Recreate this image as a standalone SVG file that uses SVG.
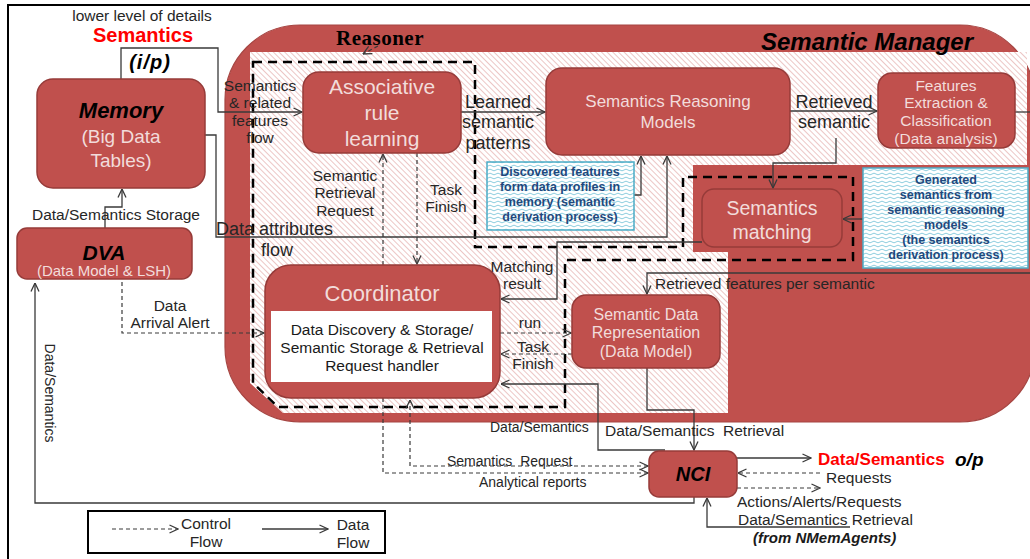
<svg xmlns="http://www.w3.org/2000/svg" width="1030" height="559" viewBox="0 0 1030 559">
  <style>
    text { font-family: "Liberation Sans", Arial, sans-serif; text-anchor: middle; dominant-baseline: central; }
    .lbl { fill: #262626; font-size: 15.5px; }
    .lbl-s { fill: #262626; font-size: 14px; }
    .lbl-l { fill: #262626; font-size: 18px; }
    .start { text-anchor: start; }
    .node { fill: #C0504D; stroke: #963B39; stroke-width: 1.5; }
    .ntxt { fill: #F2DCDB; }
    .bi { font-weight: bold; font-style: italic; fill: #000; }
    .note { fill: url(#wave); stroke: #4BACC6; stroke-width: 1.5; }
    .ntext { fill: #1F497D; font-size: 12.5px; font-weight: bold; }
    .data { fill: none; stroke: #3A3A3A; stroke-width: 1.3; marker-end: url(#arrow); }
    .plain { fill: none; stroke: #3A3A3A; stroke-width: 1.3; }
    .ctrl { fill: none; stroke: #3A3A3A; stroke-width: 1.2; stroke-dasharray: 4 3; marker-end: url(#arrow); }
    .bound { fill: none; stroke: #000; stroke-width: 2.5; stroke-dasharray: 9 6; }
  </style>
  <defs>
    <marker id="arrow" viewBox="0 0 10 10" refX="9.5" refY="5" markerWidth="10" markerHeight="10" markerUnits="userSpaceOnUse" orient="auto-start-reverse">
      <path d="M1,1 L9.5,5 L1,9" fill="none" stroke="#3A3A3A" stroke-width="1.3"/>
    </marker>
    <pattern id="hatch" patternUnits="userSpaceOnUse" width="4" height="4" patternTransform="rotate(-45)">
      <rect width="4" height="4" fill="#FFFFFF"/>
      <line x1="0" y1="0" x2="0" y2="4" stroke="#E2A8A6" stroke-width="1.3"/>
    </pattern>
    <pattern id="wave" patternUnits="userSpaceOnUse" width="8" height="4">
      <rect width="8" height="4" fill="#FFFFFF"/>
      <path d="M0,2 Q2,0.3 4,2 T8,2" fill="none" stroke="#6FC0D6" stroke-width="0.8"/>
    </pattern>
  </defs>

  <rect width="1030" height="559" fill="#FFFFFF"/>
  <!-- page frame -->
  <path d="M8,559 V5 H1030" fill="none" stroke="#000" stroke-width="2"/>

  <!-- Semantic Manager container -->
  <g id="semantic-manager">
    <rect x="225" y="25" width="810" height="397" rx="75" ry="75" fill="#C0504D" stroke="#A64542" stroke-width="1.2"/>
    <path d="M250,52 H1027 V165 H693 V252 H728 V413 H283 L250,383 Z" fill="url(#hatch)"/>
    <text x="867" y="41" class="bi" font-size="24">Semantic Manager</text>
  </g>

  <!-- Reasoner boundary -->
  <g id="reasoner">
    <path class="bound" d="M253,62 H475 V247 H683 V177 H853 V260 H565 V407 H278 L253,383 Z"/>
    <text x="380" y="38" style="font-family:'Liberation Serif','Times New Roman',serif;font-weight:bold;font-size:21px;letter-spacing:0.5px;fill:#000">Reasoner</text>
  </g>

  <!-- connectors -->
  <g id="connectors">
    <path class="ctrl" d="M378,46 L363,54"/>
    <!-- data flow -->
    <path class="data" d="M121,79 V48 H218 V112 H302"/>
    <path class="data" d="M205,135 H216 V237 H667 V156"/>
    <path class="data" d="M105,228 V207 H122 V189"/>
    <path class="data" d="M461,112 H545"/>
    <path class="data" d="M790,111 H877"/>
    <path class="plain" d="M1015,112 H1030"/>
    <path class="data" d="M836,138 V163 H773 V188"/>
    <path class="data" d="M863,219 H843"/>
    <path class="data" d="M634,195 H641 V156"/>
    <path class="data" d="M702,242 H557 V299 H501"/>
    <path class="data" d="M1030,273 H647 V294"/>
    <path class="data" d="M647,368 V410 H694 V450"/>
    <path class="data" d="M665,450 H598 V384 H501"/>
    <path class="data" d="M737,458 H811"/>
    <path class="data" d="M850,527 H707 V498"/>
    <path class="data" d="M694,497 V503 H35 V283"/>
    <!-- control flow -->
    <path class="ctrl" d="M383,265 V154"/>
    <path class="ctrl" d="M417,153 V264"/>
    <path class="ctrl" d="M122,282 V333 H264"/>
    <path class="ctrl" d="M500,333 H571"/>
    <path class="ctrl" d="M572,354 H501"/>
    <path class="ctrl" d="M648,466 H410 V400" style="marker-start:url(#arrow)"/>
    <path class="ctrl" d="M383,398 V473 H648"/>
    <path class="ctrl" d="M820,473 H738"/>
    <path class="ctrl" d="M737,488 H820"/>
  </g>

  <!-- connector labels -->
  <g id="labels">
    <text x="142" y="15" class="lbl" font-size="15">lower level of details</text>
    <text x="143" y="35" style="fill:#FF0000;font-weight:bold;font-size:20px">Semantics</text>
    <text x="150" y="62" class="bi" font-size="20" letter-spacing="1">(i/p)</text>

    <text x="260" y="85" class="lbl">Semantics</text>
    <text x="260" y="102" class="lbl">&amp; related</text>
    <text x="260" y="120" class="lbl">features</text>
    <text x="260" y="137" class="lbl">flow</text>

    <text x="498" y="102" class="lbl-l">Learned</text>
    <text x="498" y="122" class="lbl-l">semantic</text>
    <text x="498" y="143" class="lbl-l">patterns</text>

    <text x="834" y="102" class="lbl-l">Retrieved</text>
    <text x="834" y="122" class="lbl-l">semantic</text>

    <text x="216" y="229" class="lbl-l start">Data attributes</text>
    <text x="261" y="250" class="lbl-l start">flow</text>

    <text x="116" y="214" class="lbl">Data/Semantics Storage</text>
    <text x="170" y="305" class="lbl">Data</text>
    <text x="170" y="322" class="lbl">Arrival Alert</text>

    <text x="345" y="175" class="lbl" font-size="16">Semantic</text>
    <text x="345" y="192" class="lbl" font-size="16">Retrieval</text>
    <text x="345" y="210" class="lbl" font-size="16">Request</text>
    <text x="446" y="189" class="lbl" font-size="16">Task</text>
    <text x="446" y="206" class="lbl" font-size="16">Finish</text>

    <text x="522" y="266" class="lbl">Matching</text>
    <text x="522" y="283" class="lbl">result</text>
    <text x="530" y="322" class="lbl" font-size="16">run</text>
    <text x="533" y="346" class="lbl" font-size="16">Task</text>
    <text x="533" y="363" class="lbl" font-size="16">Finish</text>

    <text x="655" y="283" class="lbl start" font-size="16">Retrieved features per semantic</text>
    <text x="490" y="427" class="lbl-s start">Data/Semantics</text>
    <text x="605" y="430" class="lbl start" font-size="15" xml:space="preserve">Data/Semantics  Retrieval</text>
    <text x="447" y="461" class="lbl-s start" font-size="14.5" xml:space="preserve">Semantics  Request</text>
    <text x="479" y="482" class="lbl-s start">Analytical reports</text>

    <text x="818" y="459" class="start" style="fill:#FF0000;font-weight:bold;font-size:17px">Data/Semantics</text>
    <text x="955" y="459" class="bi start" font-size="19">o/p</text>
    <text x="826" y="477" class="lbl start" font-size="14.5">Requests</text>
    <text x="737" y="501" class="lbl start" font-size="15">Actions/Alerts/Requests</text>
    <text x="738" y="519" class="lbl start">Data/Semantics Retrieval</text>
    <text x="753" y="537" class="bi start" font-size="15" style="fill:#1a1a1a">(from NMemAgents)</text>

    <text x="50" y="393" class="lbl-s" transform="rotate(90 50 393)">Data/Semantics</text>
  </g>

  <!-- nodes -->
  <g id="memory">
    <rect x="37" y="79" width="168" height="109" rx="16" class="node"/>
    <text x="121" y="110" class="bi" font-size="22">Memory</text>
    <text x="121" y="136" class="ntxt" font-size="19">(Big Data</text>
    <text x="121" y="160" class="ntxt" font-size="19">Tables)</text>
  </g>

  <g id="dva">
    <rect x="17" y="228" width="175" height="51" rx="10" class="node"/>
    <text x="104" y="252" class="bi" font-size="21">DVA</text>
    <text x="104" y="270" class="ntxt" font-size="15">(Data Model &amp; LSH)</text>
  </g>

  <g id="associative-rule-learning">
    <rect x="303" y="72" width="158" height="81" rx="16" class="node"/>
    <text x="382" y="86" class="ntxt" font-size="21">Associative</text>
    <text x="382" y="112" class="ntxt" font-size="21">rule</text>
    <text x="382" y="138" class="ntxt" font-size="21">learning</text>
  </g>

  <g id="semantics-reasoning-models">
    <rect x="546" y="68" width="244" height="87" rx="16" class="node"/>
    <text x="668" y="101" class="ntxt" font-size="17">Semantics Reasoning</text>
    <text x="668" y="122" class="ntxt" font-size="17">Models</text>
  </g>

  <g id="features-extraction">
    <rect x="878" y="73" width="137" height="75" rx="14" class="node"/>
    <text x="946" y="85" class="ntxt" font-size="15.5">Features</text>
    <text x="946" y="102" class="ntxt" font-size="15.5">Extraction &amp;</text>
    <text x="946" y="120" class="ntxt" font-size="15.5">Classification</text>
    <text x="946" y="138" class="ntxt" font-size="15.5">(Data analysis)</text>
  </g>

  <g id="discovered-features-note">
    <rect x="487" y="162" width="147" height="68" class="note"/>
    <text x="560" y="172" class="ntext">Discovered features</text>
    <text x="560" y="187" class="ntext">form data profiles in</text>
    <text x="560" y="202" class="ntext">memory (semantic</text>
    <text x="560" y="217" class="ntext">derivation process)</text>
  </g>

  <g id="generated-semantics-note">
    <rect x="863" y="168" width="165" height="100" class="note"/>
    <text x="946" y="180" class="ntext">Generated</text>
    <text x="946" y="195" class="ntext">semantics from</text>
    <text x="946" y="210" class="ntext">semantic reasoning</text>
    <text x="946" y="225" class="ntext">models</text>
    <text x="946" y="240" class="ntext">(the semantics</text>
    <text x="946" y="255" class="ntext">derivation process)</text>
  </g>

  <g id="semantics-matching">
    <rect x="702" y="189" width="140" height="58" rx="12" class="node"/>
    <text x="772" y="208" class="ntxt" font-size="19.5">Semantics</text>
    <text x="772" y="232" class="ntxt" font-size="19.5">matching</text>
  </g>

  <g id="coordinator">
    <rect x="265" y="265" width="235" height="133" rx="26" class="node"/>
    <text x="382" y="293" class="ntxt" font-size="22">Coordinator</text>
    <rect x="271" y="311" width="221" height="71" fill="#FFFFFF"/>
    <text x="382" y="329" class="lbl" font-size="15" style="fill:#1a1a1a">Data Discovery &amp; Storage/</text>
    <text x="382" y="347" class="lbl" font-size="15" style="fill:#1a1a1a">Semantic Storage &amp; Retrieval</text>
    <text x="382" y="365" class="lbl" font-size="15" style="fill:#1a1a1a">Request handler</text>
  </g>

  <g id="semantic-data-representation">
    <rect x="572" y="295" width="148" height="73" rx="14" class="node"/>
    <text x="646" y="314" class="ntxt" font-size="16">Semantic Data</text>
    <text x="646" y="332" class="ntxt" font-size="16">Representation</text>
    <text x="646" y="351" class="ntxt" font-size="16">(Data Model)</text>
  </g>

  <g id="nci">
    <rect x="649" y="451" width="88" height="46" rx="10" class="node"/>
    <text x="693" y="474" class="bi" font-size="20">NCI</text>
  </g>

  <!-- legend -->
  <g id="legend">
    <rect x="88" y="511" width="297" height="42" fill="#FFFFFF" stroke="#000" stroke-width="2"/>
    <path class="ctrl" d="M112,529 H178"/>
    <text x="206" y="523" class="lbl" font-size="16">Control</text>
    <text x="206" y="541" class="lbl" font-size="16">Flow</text>
    <path class="data" d="M262,529 H328"/>
    <text x="353" y="524" class="lbl" font-size="16">Data</text>
    <text x="353" y="542" class="lbl" font-size="16">Flow</text>
  </g>
</svg>
